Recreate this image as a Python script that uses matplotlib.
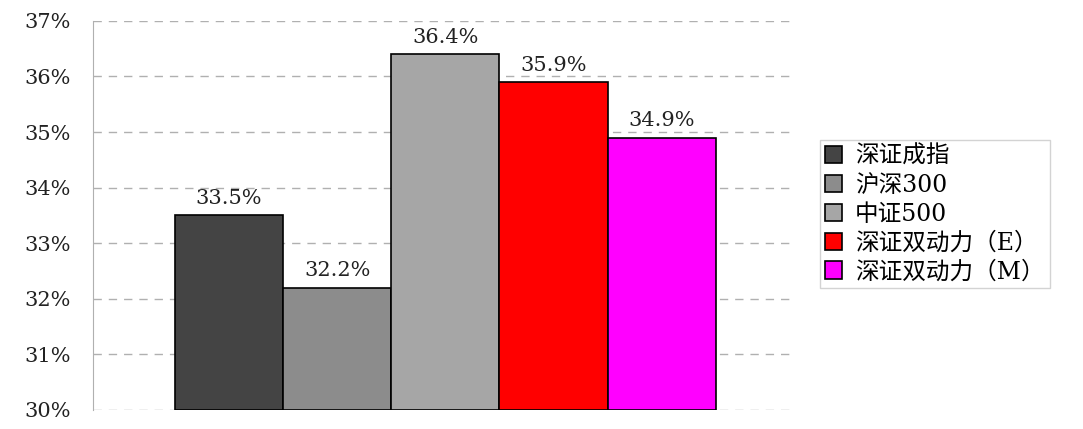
import numpy as np
import matplotlib
matplotlib.use("Agg")
import matplotlib.pyplot as plt
from matplotlib.ticker import FuncFormatter

# datos
nombres = ["深证成指", "沪深300", "中证500", "深证双动力（E）", "深证双动力（M）"]
valores = [33.5, 32.2, 36.4, 35.9, 34.9]
colores = ["#444444", "#8c8c8c", "#a6a6a6", "#ff0000", "#ff00ff"]
yticks = [30, 31, 32, 33, 34, 35, 36, 37]

fuente = ["DejaVu Serif", "Noto Sans CJK SC"]
plt.rcParams["font.family"] = fuente

fig = plt.figure(figsize=(10.83, 4.29), dpi=100)
ax = fig.add_axes([0.0859, 0.0443, 0.648, 0.907])

x = np.arange(len(valores))
barras = ax.bar(x, [v - 30 for v in valores], bottom=30, width=1.0,
                color=colores, edgecolor="black", linewidth=1.2,
                label=None, zorder=3)

for xi, v in zip(x, valores):
    ax.text(xi, v + 0.13, f"{v:.1f}%", ha="center", va="bottom",
            fontsize=15, color="#222222")

ax.set_ylim(30, 37)
ax.set_xlim(-1.257, 5.23)
ax.set_yticks(yticks)
ax.yaxis.set_major_formatter(FuncFormatter(lambda v, p: f"{v:.0f}%"))
ax.set_xticks([])
ax.tick_params(axis="y", length=0, labelsize=15, pad=16, colors="#222222")
ax.grid(axis="y", color="#b0b0b0", linestyle=(0, (6, 5)), linewidth=1, zorder=0)

for s in ["top", "right", "bottom"]:
    ax.spines[s].set_visible(False)
ax.spines["left"].set_color("#b0b0b0")

leg = fig.legend(barras, nombres, loc="center left",
                 bbox_to_anchor=(0.757, 0.501), bbox_transform=fig.transFigure,
                 fontsize=17, frameon=True, fancybox=False, edgecolor="#c8c8c8",
                 handlelength=0.75, handleheight=0.75, handletextpad=0.55,
                 labelspacing=0.25, borderpad=0.2, borderaxespad=0)
leg.get_frame().set_linewidth(1.0)

fig.savefig("out.png", dpi=100)
